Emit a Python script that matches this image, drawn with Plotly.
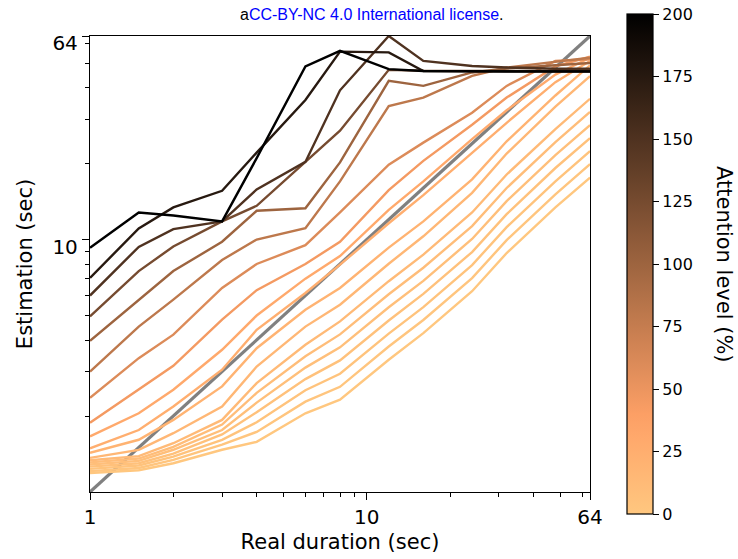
import numpy as np
import plotly.graph_objects as go

durations = [1, 1.5, 2, 3, 4, 6, 8, 12, 16, 24, 32, 48, 64]

attention_levels = [0, 2, 4, 6, 8, 10, 13, 16, 20, 25, 30, 45, 60, 80, 100, 125, 150, 175, 200]

estimates = [
    [1.19, 1.22, 1.30, 1.47, 1.58, 2.05, 2.32, 3.34, 4.26, 6.24, 8.84, 13.4, 17.6],
    [1.21, 1.245, 1.34, 1.54, 1.73, 2.28, 2.61, 3.77, 4.80, 7.03, 9.95, 15.1, 19.9],
    [1.235, 1.273, 1.38, 1.61, 1.89, 2.53, 2.94, 4.24, 5.40, 7.92, 11.2, 17.0, 22.4],
    [1.26, 1.30, 1.42, 1.69, 2.07, 2.80, 3.32, 4.78, 6.09, 8.92, 12.6, 19.2, 25.2],
    [1.285, 1.328, 1.47, 1.76, 2.26, 3.11, 3.74, 5.39, 6.86, 10.05, 14.2, 21.6, 28.4],
    [1.31, 1.357, 1.51, 1.85, 2.47, 3.45, 4.21, 6.07, 7.73, 11.3, 16.0, 24.3, 32.0],
    [1.335, 1.387, 1.56, 1.93, 2.70, 3.83, 4.74, 6.84, 8.71, 12.8, 18.1, 27.4, 36.1],
    [1.365, 1.469, 1.71, 2.18, 3.14, 4.52, 5.52, 8.02, 10.3, 15.3, 21.9, 33.6, 44.4],
    [1.43, 1.61, 1.93, 2.62, 3.71, 5.27, 6.43, 9.29, 11.8, 17.3, 24.5, 37.2, 49.0],
    [1.49, 1.76, 2.18, 3.05, 4.39, 6.14, 7.95, 11.6, 15.0, 22.0, 29.0, 42.0, 51.0],
    [1.66, 2.05, 2.54, 3.66, 5.0, 7.0, 8.6, 13.1, 17.0, 25.0, 32.5, 45.0, 52.5],
    [1.88, 2.54, 3.16, 4.82, 6.3, 8.0, 9.8, 15.7, 20.5, 28.5, 36.5, 48.5, 53.0],
    [2.36, 3.39, 4.2, 6.43, 8.0, 9.5, 12.8, 19.8, 24.2, 31.8, 40.6, 51.0, 51.8],
    [3.0, 4.52, 5.78, 8.3, 10.0, 11.1, 17.0, 33.8, 36.5, 44.5, 48.0, 50.5, 52.5],
    [3.97, 5.78, 7.5, 9.8, 13.0, 13.3, 20.2, 42.5, 40.6, 45.9, 47.6, 49.0, 50.0],
    [4.96, 7.5, 9.38, 11.8, 13.6, 20.3, 27.0, 47.0, 46.6, 46.5, 46.5, 46.5, 46.5],
    [6.0, 9.35, 11.0, 11.8, 15.8, 20.3, 39.0, 64.0, 51.0, 48.7, 48.0, 47.5, 47.5],
    [7.05, 11.06, 13.4, 15.6, 22.1, 35.7, 55.5, 55.1, 46.5, 46.4, 46.4, 46.4, 46.4],
    [9.27, 12.8, 12.45, 11.8, 21.0, 48.5, 55.9, 47.3, 46.5, 46.3, 46.3, 46.3, 46.3],
]

diagonal = [1, 64]
x_ticks = [1, 10, 64]
y_ticks = [10, 64]
minor_ticks = [2, 3, 4, 5, 6, 7, 8, 9, 20, 30, 40, 50, 60]
cbar_ticks = [0, 25, 50, 75, 100, 125, 150, 175, 200]
cmin, cmax = 0, 200


def copper_r(v):
    x = 1 - (v - cmin) / (cmax - cmin)
    r = min(1.0, x / 0.809524)
    g = 0.7812 * x
    b = 0.4975 * x
    return "rgb(%d,%d,%d)" % (round(r * 255), round(g * 255), round(b * 255))


colorscale = [[t, copper_r(cmin + t * (cmax - cmin))] for t in np.linspace(0, 1, 21)]

fig = go.Figure()

fig.add_trace(go.Scatter(x=diagonal, y=diagonal, mode="lines",
                         line=dict(color="#808080", width=3.2), showlegend=False,
                         hoverinfo="skip"))

for level, est in zip(attention_levels, estimates):
    fig.add_trace(go.Scatter(x=durations, y=est, mode="lines",
                             line=dict(color=copper_r(level), width=2.4),
                             showlegend=False, name=f"{level}%"))

fig.add_trace(go.Scatter(
    x=[None], y=[None], mode="markers", showlegend=False, hoverinfo="skip",
    marker=dict(color=[cmin], colorscale=colorscale, cmin=cmin, cmax=cmax,
                showscale=True,
                colorbar=dict(
                    x=1.074, xanchor="left", xref="paper", xpad=0, ypad=0,
                    y=0.5, yanchor="middle", len=500, lenmode="pixels",
                    thickness=26, thicknessmode="pixels",
                    outlinecolor="black", outlinewidth=1.2,
                    tickvals=cbar_ticks, ticktext=[str(v) for v in cbar_ticks],
                    ticklabeloverflow="allow",
                    ticks="outside", ticklen=6, tickwidth=1.2, tickcolor="black",
                    tickfont=dict(family="DejaVu Sans", size=16, color="black"),
                    title=dict(text=""),
                ))))

axis_common = dict(
    type="log", showgrid=False, zeroline=False,
    showline=True, linecolor="black", linewidth=1.3, mirror=True,
    ticks="outside", ticklen=7, tickwidth=1.3, tickcolor="black",
    tickfont=dict(family="DejaVu Sans", size=20, color="black"),
    minor=dict(tickvals=minor_ticks, ticks="outside", ticklen=4, tickwidth=1, tickcolor="black"),
)
title_font = dict(family="DejaVu Sans", size=21, color="black")

fig.update_xaxes(range=[0, np.log10(64)], tickvals=x_ticks, ticktext=[str(v) for v in x_ticks],
                 title=dict(text="Real duration (sec)", font=title_font, standoff=6),
                 **axis_common)
fig.update_yaxes(range=[0, np.log10(64)], tickvals=y_ticks, ticktext=[str(v) for v in y_ticks],
                 ticklabelshift=7,
                 title=dict(text="Estimation (sec)", font=title_font, standoff=14),
                 **axis_common)

fig.add_annotation(text="Attention level (%)", xref="paper", yref="paper",
                   x=1.268, y=0.50, xanchor="center", yanchor="middle", textangle=90,
                   showarrow=False, font=title_font)

fig.add_annotation(text="a<span style='color:#0000ff'>CC-BY-NC 4.0 International license</span>.",
                   xref="paper", yref="paper", x=0.564, y=1.0, xanchor="center",
                   yanchor="middle", yshift=22,
                   showarrow=False, font=dict(family="Liberation Sans", size=16, color="black"))

fig.update_layout(
    width=738, height=559,
    margin=dict(l=90, r=148, t=36, b=67, autoexpand=False),
    plot_bgcolor="white", paper_bgcolor="white",
    showlegend=False,
)

fig.write_html("out.html", config={"displayModeBar": False},
               post_script="document.body.style.margin='0';")
